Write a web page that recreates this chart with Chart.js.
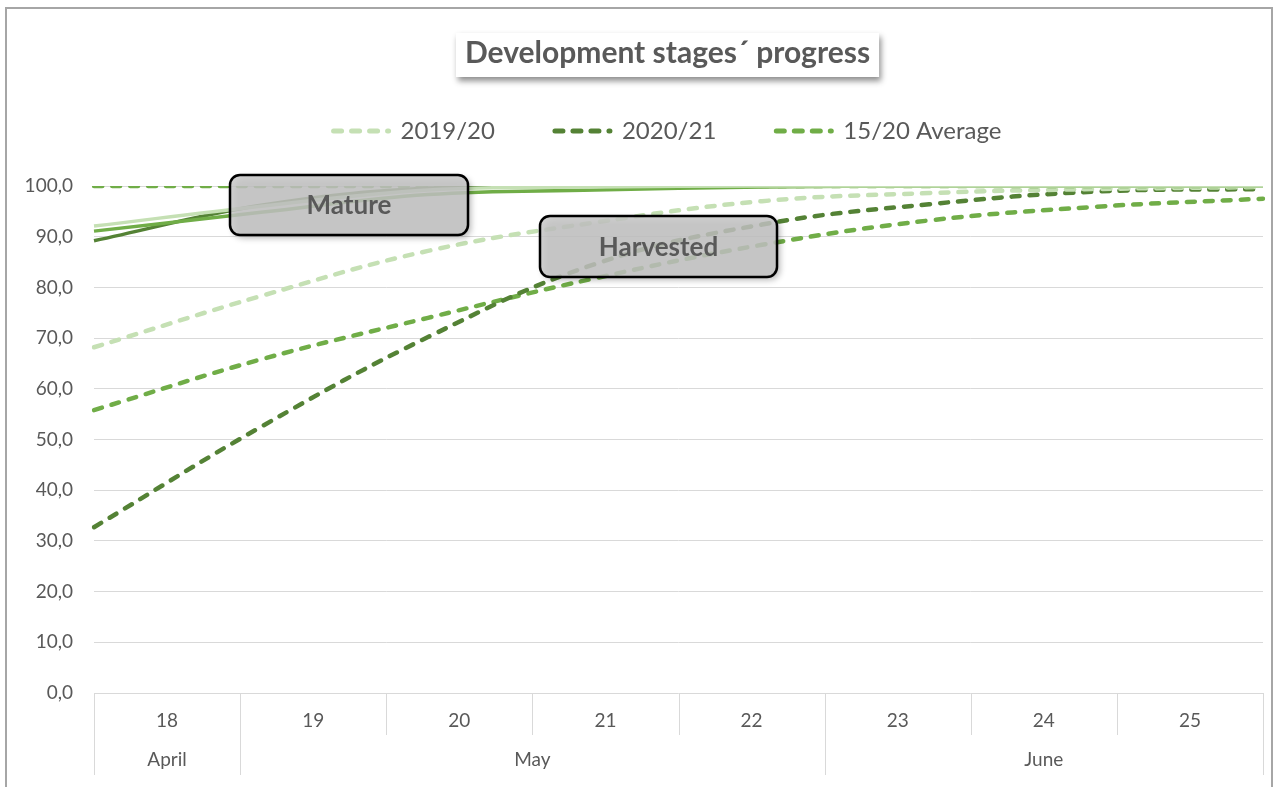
<!DOCTYPE html>
<html>
<head>
<meta charset="utf-8">
<script src="https://cdn.jsdelivr.net/npm/chart.js"></script>
<style>
  html, body { margin: 0; padding: 0; background: #fff; }
</style>
</head>
<body>
<canvas id="stagesChart" width="1276" height="787"></canvas>
<script>
const days = ['18', '19', '20', '21', '22', '23', '24', '25'];
const months = ['April', 'May', 'June'];
const monthSpans = [1, 4, 3];

// harvested (dashed)
const harvested1920 = [68.2, 78.3, 87.2, 92.8, 97.0, 98.6, 99.4, 99.8];
const harvested2021 = [32.7, 52.5, 70.2, 84.6, 92.4, 96.4, 98.9, 99.4];
const harvestedAvg = [55.8, 65.8, 74.0, 81.8, 88.4, 93.2, 95.9, 97.5];

// mature (solid)
const mature1920 = [92.1, 96.0, 99.2, 99.8, 100, 100, 100, 100];
const mature2021 = [89.2, 96.2, 99.6, 100, 100, 100, 100, 100];
const matureAvg = [91.1, 94.8, 98.3, 99.2, 99.8, 100, 100, 100];
const matureRef = [100, 100, 100, 100, 100, 100, 100, 100];

const lightGreen = '#c5e0b4';
const darkGreen = '#548235';
const midGreen = '#70ad47';
const textGrey = '#595959';
const gridGrey = '#d9d9d9';

function dashed(label, data, color) {
  return {
    label: label, data: data, borderColor: color, backgroundColor: color,
    borderWidth: 4.5, borderDash: [8, 10], borderCapStyle: 'round',
    pointRadius: 0, tension: 0.4, fill: false
  };
}
function solid(label, data, color) {
  return {
    label: label, data: data, borderColor: color, backgroundColor: color,
    borderWidth: 3.5, pointRadius: 0, tension: 0.4, fill: false
  };
}

// white page, grey frame and the box behind the title
const framePlugin = {
  id: 'frame',
  beforeDraw(chart) {
    const ctx = chart.ctx;
    ctx.save();
    ctx.fillStyle = '#fff';
    ctx.fillRect(0, 0, chart.width, chart.height);
    ctx.strokeStyle = '#a6a6a6';
    ctx.lineWidth = 2;
    ctx.strokeRect(6, 8, 1266, 800);

    const tb = chart.titleBlock;
    const font = Chart.helpers.toFont(chart.options.plugins.title.font);
    ctx.font = font.string;
    const w = ctx.measureText(chart.options.plugins.title.text).width + 18;
    const cx = (tb.left + tb.right) / 2;
    ctx.shadowColor = 'rgba(0,0,0,0.45)';
    ctx.shadowBlur = 6;
    ctx.shadowOffsetX = 2;
    ctx.shadowOffsetY = 4;
    ctx.fillStyle = '#fff';
    ctx.fillRect(cx - w / 2, 33, w, 44);
    ctx.restore();
  }
};

// two-level category axis: separators and month labels
const axisPlugin = {
  id: 'axisDecor',
  afterDraw(chart) {
    const ctx = chart.ctx;
    const x = chart.scales.x;
    const area = chart.chartArea;
    const step = (area.right - area.left) / days.length;
    ctx.save();
    ctx.strokeStyle = gridGrey;
    ctx.lineWidth = 1;
    const monthEdges = [0];
    let acc = 0;
    monthSpans.forEach(s => { acc += s; monthEdges.push(acc); });
    for (let i = 0; i <= days.length; i++) {
      const px = Math.round(area.left + i * step) + 0.5;
      const long = monthEdges.indexOf(i) !== -1;
      ctx.beginPath();
      ctx.moveTo(px, area.bottom);
      ctx.lineTo(px, long ? area.bottom + 82 : area.bottom + 42);
      ctx.stroke();
    }
    ctx.fillStyle = textGrey;
    ctx.font = '19px Lato';
    ctx.textAlign = 'center';
    ctx.textBaseline = 'middle';
    let start = 0;
    months.forEach((m, i) => {
      const end = start + monthSpans[i] - 1;
      const cx = (x.getPixelForValue(start) + x.getPixelForValue(end)) / 2;
      ctx.fillText(m, cx, area.bottom + 67);
      start += monthSpans[i];
    });
    ctx.restore();
  }
};

// "Mature" / "Harvested" call-out boxes
const notesPlugin = {
  id: 'notes',
  afterDatasetsDraw(chart) {
    const ctx = chart.ctx;
    const notes = [
      { text: 'Mature', x: 230, y: 175, w: 238, h: 60 },
      { text: 'Harvested', x: 540, y: 216, w: 237, h: 61 }
    ];
    ctx.save();
    notes.forEach(n => {
      ctx.save();
      ctx.shadowColor = 'rgba(0,0,0,0.35)';
      ctx.shadowBlur = 6;
      ctx.shadowOffsetX = 3;
      ctx.shadowOffsetY = 3;
      ctx.beginPath();
      ctx.roundRect(n.x, n.y, n.w, n.h, 10);
      ctx.fillStyle = 'rgba(200,200,200,0.82)';
      ctx.fill();
      ctx.restore();
      ctx.beginPath();
      ctx.roundRect(n.x, n.y, n.w, n.h, 10);
      ctx.lineWidth = 2.5;
      ctx.strokeStyle = '#000';
      ctx.stroke();
      ctx.fillStyle = textGrey;
      ctx.font = 'bold 26px Lato';
      ctx.textAlign = 'center';
      ctx.textBaseline = 'middle';
      ctx.fillText(n.text, n.x + n.w / 2, n.y + n.h / 2 + 1);
    });
    ctx.restore();
  }
};

const legendSeries = ['2019/20', '2020/21', '15/20 Average'];

const data = {
  labels: days,
  datasets: [
    solid('Mature 2019/20', mature1920, lightGreen),
    solid('Mature 15/20 Average', matureAvg, midGreen),
    solid('Mature 2020/21', mature2021, darkGreen),
    dashed('Mature reference', matureRef, midGreen),
    dashed('2019/20', harvested1920, lightGreen),
    dashed('2020/21', harvested2021, darkGreen),
    dashed('15/20 Average', harvestedAvg, midGreen)
  ]
};

const config = {
  type: 'line',
  data: data,
  options: {
    responsive: false,
    animation: false,
    layout: { padding: { left: 72, right: 13, top: 0, bottom: 0 } },
    plugins: {
      title: {
        display: true,
        text: 'Development stages\u00b4 progress',
        color: textGrey,
        font: { family: 'Lato', size: 30, weight: 'bold' },
        padding: { top: 35, bottom: -12 }
      },
      legend: {
        display: true,
        labels: {
          color: textGrey,
          font: { family: 'Lato', size: 24 },
          usePointStyle: true,
          pointStyleWidth: 55,
          padding: 60,
          generateLabels: chart => chart.data.datasets
            .map((ds, i) => ({
              text: ds.label,
              datasetIndex: i,
              fillStyle: ds.borderColor,
              strokeStyle: ds.borderColor,
              lineWidth: 5,
              lineDash: [8, 10],
              lineCap: 'round',
              pointStyle: 'line',
              fontColor: textGrey,
              hidden: false
            }))
            .filter(item => legendSeries.indexOf(item.text) !== -1)
        }
      },
      tooltip: { enabled: false }
    },
    scales: {
      gap: {
        type: 'category',
        position: 'top',
        display: true,
        grid: { display: false },
        border: { display: false },
        ticks: { display: false },
        afterFit: s => { s.height = 33; }
      },
      x: {
        offset: true,
        grid: { display: false },
        border: { display: false },
        ticks: {
          color: textGrey,
          font: { family: 'Lato', size: 19 },
          padding: 8,
          maxRotation: 0
        },
        afterFit: s => { s.height = 94; }
      },
      y: {
        min: 0,
        max: 100,
        border: { display: false },
        grid: { color: gridGrey, drawTicks: false },
        ticks: {
          stepSize: 10,
          color: textGrey,
          font: { family: 'Lato', size: 19 },
          padding: 21,
          callback: v => v.toFixed(1).replace('.', ',')
        },
        afterFit: s => {
          s.width = 22;
          // labels reach into the left padding, so do not clip them to the axis box
          s._computeLabelArea = () => undefined;
        }
      }
    }
  },
  plugins: [framePlugin, axisPlugin, notesPlugin]
};

const stagesChart = new Chart(document.getElementById('stagesChart'), config);
</script>
</body>
</html>
